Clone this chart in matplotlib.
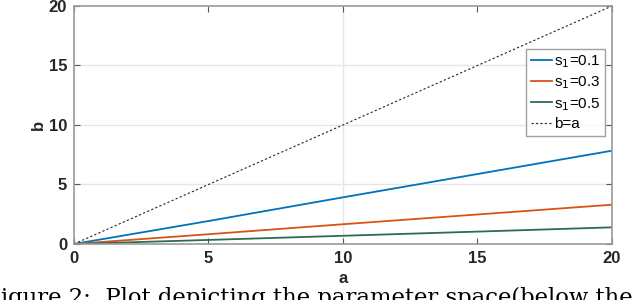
import numpy as np
import matplotlib
matplotlib.use("Agg")
import matplotlib.pyplot as plt

plt.rcParams['font.family'] = ['Liberation Sans', 'DejaVu Sans']

a = [0, 5, 10, 15, 20]
b_s01 = [0, 1.93, 3.92, 5.88, 7.84]
b_s03 = [0, 0.82, 1.66, 2.48, 3.3]
b_s05 = [0, 0.34, 0.69, 1.04, 1.4]
b_eq_a = [0, 5, 10, 15, 20]
labels = ['s$_1$=0.1', 's$_1$=0.3', 's$_1$=0.5', 'b=a']

fig = plt.figure(figsize=(6.4, 3.0), dpi=100)
ax = fig.add_axes([0.1156, 0.1867, 0.8406, 0.7933])

# grid lines as in the source (only some show)
for y in [5, 10, 15]:
    ax.axhline(y, color='#e6e6e6', lw=1, zorder=0)
ax.axvline(10, color='#e6e6e6', lw=1, zorder=0)

ax.plot(a, b_s01, color='#0072BD', lw=1.3, label=labels[0])
ax.plot(a, b_s03, color='#D95319', lw=1.3, label=labels[1])
ax.plot(a, b_s05, color='#2E6B4F', lw=1.3, label=labels[2])
ax.plot(a, b_eq_a, color='#222222', lw=0.8, ls=(0, (2, 2)), label=labels[3])

ax.set_xlim(0, 20)
ax.set_ylim(0, 20)
ax.set_xticks([0, 5, 10, 15, 20])
ax.set_yticks([0, 5, 10, 15, 20])
ax.tick_params(direction='in', length=4, color='#555555', labelsize=12, pad=5,
               top=True, right=True)
for t in ax.get_xticklabels() + ax.get_yticklabels():
    t.set_fontweight('bold')
    t.set_color('#262626')
for s in ax.spines.values():
    s.set_color('#999999')
    s.set_linewidth(1.2)

ax.set_xlabel('a', fontsize=12, fontweight='bold', color='#262626', labelpad=4)
ax.set_ylabel('b', fontsize=12, fontweight='bold', color='#262626', labelpad=2)

leg = ax.legend(loc='upper right', bbox_to_anchor=(0.995, 0.84), fontsize=11,
                frameon=True, fancybox=False, handlelength=1.4, handletextpad=0.1,
                borderpad=0.3, labelspacing=0.3, borderaxespad=0.3)
leg.get_frame().set_edgecolor('#888888')
leg.get_frame().set_linewidth(1.0)

fig.text(-0.024, -0.012, 'Figure 2:  Plot depicting the parameter space(below the',
         family='DejaVu Serif', fontsize=16.4, ha='left', va='baseline')

fig.savefig('out.png', dpi=100)
